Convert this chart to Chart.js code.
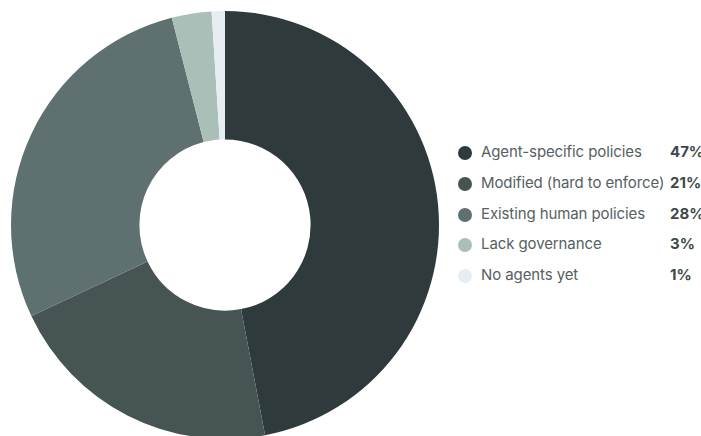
<!DOCTYPE html>
<html>
<head>
<meta charset="utf-8">
<script src="https://cdn.jsdelivr.net/npm/chart.js@4.4.1/dist/chart.umd.min.js"></script>
<style>
  html, body { margin: 0; padding: 0; background: #fff; width: 701px; height: 436px; overflow: hidden; }
  #wrap { position: absolute; left: 0; top: 0; width: 450px; height: 450px; }
  #legend { position: absolute; left: 457px; top: 141px; font-family: Inter, "Noto Sans", sans-serif; font-size: 15px; }
  .row { position: relative; height: 30.8px; width: 244px; }
  .dot { position: absolute; left: 1px; top: 5px; width: 14px; height: 14px; border-radius: 50%; }
  .lbl { position: absolute; left: 24px; top: 1px; color: #55615f; white-space: nowrap; letter-spacing: -0.1px; }
  .pct { position: absolute; left: 213px; top: 1px; color: #3d4948; font-weight: 700; }
</style>
</head>
<body>
<div id="wrap"><canvas id="c" width="450" height="450"></canvas></div>
<div id="legend"></div>
<script>
const categories = ["Agent-specific policies", "Modified (hard to enforce)", "Existing human policies", "Lack governance", "No agents yet"];
const shares = [47, 21, 28, 3, 1];
const sliceColors = ["#2e3a3c", "#465553", "#5f7070", "#a9bfb7", "#e6eef4"];

new Chart(document.getElementById("c"), {
  type: "doughnut",
  data: {
    labels: categories,
    datasets: [{ data: shares, backgroundColor: sliceColors, borderWidth: 0 }]
  },
  options: {
    responsive: false,
    animation: false,
    cutout: "40%",
    layout: { padding: 11 },
    plugins: { legend: { display: false }, tooltip: { enabled: false } }
  }
});

const legend = document.getElementById("legend");
categories.forEach((name, i) => {
  const row = document.createElement("div");
  row.className = "row";
  row.innerHTML = '<span class="dot" style="background:' + sliceColors[i] + '"></span>' +
    '<span class="lbl">' + name + '</span>' +
    '<span class="pct">' + shares[i] + '%</span>';
  legend.appendChild(row);
});
</script>
</body>
</html>
